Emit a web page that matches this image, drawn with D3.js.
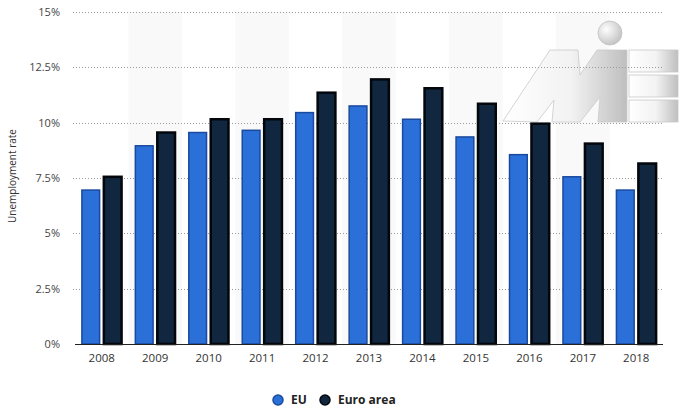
<!DOCTYPE html>
<html>
<head>
<meta charset="utf-8">
<script src="https://cdn.jsdelivr.net/npm/d3@7"></script>
<style>
  html, body { margin: 0; padding: 0; background: #fff; }
  svg { display: block; font-family: "Open Sans", sans-serif; }
</style>
</head>
<body>
<svg id="chart" width="689" height="420"></svg>
<script>
const years = ["2008","2009","2010","2011","2012","2013","2014","2015","2016","2017","2018"];
const seriesNames = ["EU", "Euro area"];
const euValues = [7.0, 9.0, 9.6, 9.7, 10.5, 10.8, 10.2, 9.4, 8.6, 7.6, 7.0];
const euroAreaValues = [7.6, 9.6, 10.2, 10.2, 11.4, 12.0, 11.6, 10.9, 10.0, 9.1, 8.2];
const yTicks = [0, 2.5, 5, 7.5, 10, 12.5, 15];
const yTickLabels = ["0%", "2.5%", "5%", "7.5%", "10%", "12.5%", "15%"];
const yAxisTitle = "Unemployment rate";

const fills = { "EU": "#2b6fd9", "Euro area": "#11263f" };
const strokes = { "EU": "#1a4a9e", "Euro area": "#03070c" };

const svg = d3.select("#chart");

const x = d3.scaleBand().domain(years).range([75, 663]).padding(0);
const y = d3.scaleLinear().domain([0, 15]).range([344, 12]);
const bw = x.bandwidth();
const x1 = d3.scaleBand().domain(seriesNames).range([bw * 0.11, bw * 0.89]).paddingInner(0.1);

// alternating band shading
svg.append("g").selectAll("rect").data(years.filter((d, i) => i % 2 === 1)).join("rect")
  .attr("x", d => x(d)).attr("y", y(15)).attr("width", bw).attr("height", y(0) - y(15))
  .attr("fill", "#f9f9f9");

// watermark logo (approximate)
const wm = svg.append("g").attr("opacity", 0.9);
const defs = svg.append("defs");
const grad = defs.append("linearGradient").attr("id", "wmg").attr("x1", "0").attr("x2", "1").attr("y1", "0").attr("y2", "0");
grad.append("stop").attr("offset", "0%").attr("stop-color", "#ffffff");
grad.append("stop").attr("offset", "55%").attr("stop-color", "#f2f2f2");
grad.append("stop").attr("offset", "100%").attr("stop-color", "#b8b8b8");
const rg = defs.append("radialGradient").attr("id", "wmc").attr("cx", "0.35").attr("cy", "0.35").attr("r", "0.7");
rg.append("stop").attr("offset", "0%").attr("stop-color", "#ffffff");
rg.append("stop").attr("offset", "100%").attr("stop-color", "#bcbcbc");
const mPts = [[503,121],[550,50],[578,50],[580,75],[597,50],[627,50],[627,122],[598,122],[600,97],[580,122],[552,122],[554,100],[537,122]];

// gridlines
const grid = svg.append("g");
grid.selectAll("line").data(yTicks.filter(d => d > 0)).join("line")
  .attr("x1", 73).attr("x2", 663)
  .attr("y1", d => Math.round(y(d)) + 0.5).attr("y2", d => Math.round(y(d)) + 0.5)
  .attr("stroke", "#9a9a9a").attr("stroke-width", 1).attr("stroke-dasharray", "1,2");

wm.append("path").attr("d", d3.line()(mPts) + "Z").attr("fill", "url(#wmg)").attr("stroke", "#c4c4c4").attr("stroke-width", 0.8);
wm.append("circle").attr("cx", 610).attr("cy", 33).attr("r", 12).attr("fill", "url(#wmc)").attr("stroke", "#bdbdbd").attr("stroke-width", 0.8);
[[50,72],[75,97],[100,122]].forEach(([a, b]) => {
  wm.append("rect").attr("x", 629).attr("y", a).attr("width", 49).attr("height", b - a)
    .attr("fill", "url(#wmg)").attr("stroke", "#c4c4c4").attr("stroke-width", 0.8);
});

// bars
const data = years.map((yr, i) => ({ year: yr, values: [
  { name: "EU", value: euValues[i] },
  { name: "Euro area", value: euroAreaValues[i] }
]}));
const groups = svg.append("g").selectAll("g").data(data).join("g")
  .attr("transform", d => `translate(${x(d.year)},0)`);
groups.selectAll("rect").data(d => d.values).join("rect")
  .attr("x", d => x1(d.name) + 1)
  .attr("y", d => y(d.value) + 1)
  .attr("width", x1.bandwidth() - 2)
  .attr("height", d => y(0) - y(d.value) - 1)
  .attr("fill", d => fills[d.name])
  .attr("stroke", d => strokes[d.name])
  .attr("stroke-width", d => d.name === "EU" ? 1.5 : 2.5);

// baseline
svg.append("line").attr("x1", 75).attr("x2", 663).attr("y1", y(0) + 0.5).attr("y2", y(0) + 0.5)
  .attr("stroke", "#222").attr("stroke-width", 1);

// y tick labels
svg.append("g").selectAll("text").data(yTicks).join("text")
  .attr("x", 60).attr("y", d => y(d)).attr("dy", "0.35em")
  .attr("text-anchor", "end").attr("font-size", 11).attr("fill", "#444")
  .text((d, i) => yTickLabels[i]);

// x labels
const xAxis = d3.axisBottom(x).tickSize(0).tickPadding(10);
const xg = svg.append("g").attr("transform", `translate(0,${y(0)})`).call(xAxis);
xg.select(".domain").remove();
xg.selectAll("text").attr("font-size", 11.5).attr("fill", "#333").attr("font-family", "Open Sans, sans-serif");

// y axis title
svg.append("text").attr("transform", "translate(16,176) rotate(-90)")
  .attr("text-anchor", "middle").attr("font-size", 10).attr("fill", "#333")
  .text(yAxisTitle);

// legend
const legend = svg.append("g").attr("transform", "translate(0,400)");
const legX = [278, 325];
seriesNames.forEach((n, i) => {
  legend.append("circle").attr("cx", legX[i]).attr("cy", 0).attr("r", 5)
    .attr("fill", fills[n]).attr("stroke", strokes[n]).attr("stroke-width", 1.5);
  legend.append("text").attr("x", legX[i] + 13).attr("y", 0).attr("dy", "0.35em")
    .attr("font-size", 12).attr("font-weight", "bold").attr("fill", "#222").text(n);
});
</script>
</body>
</html>
